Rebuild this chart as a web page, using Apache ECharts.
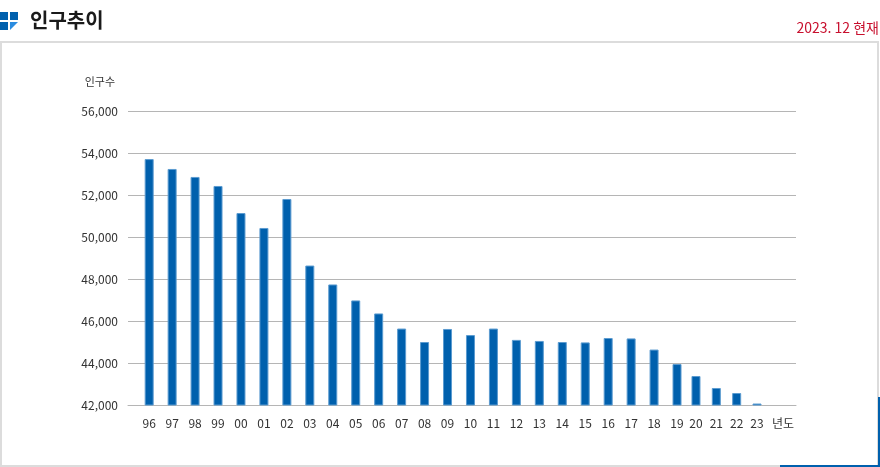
<!DOCTYPE html>
<html lang="ko">
<head>
<meta charset="utf-8">
<title>인구추이</title>
<style>
  html, body { margin: 0; padding: 0; background: #fff; }
  #chart { width: 880px; height: 467px; }
</style>
<script src="https://cdn.jsdelivr.net/npm/echarts@6/dist/echarts.min.js"></script>
</head>
<body>
<div id="chart"></div>
<script>
// 96~19 and 20~23 are spaced differently in the picture, so they sit on two axes
const yearsEarly = ['96', '97', '98', '99', '00', '01', '02', '03', '04', '05', '06', '07', '08', '09', '10', '11', '12', '13', '14', '15', '16', '17', '18', '19']
const yearsLate = ['20', '21', '22', '23']
const populationEarly = [53710, 53240, 52860, 52430, 51140, 50430, 51810, 48640, 47740, 46980, 46360, 45640, 45000, 45620, 45330, 45640, 45100, 45050, 45000, 44980, 45190, 45170, 44640, 43950]
const populationLate = [43380, 42810, 42570, 42070]

const FONT = '"Noto Sans CJK KR", "Noto Sans", sans-serif'
const BLUE = '#0060ad'
const GREY = '#dcdcdc'
const yMin = 42000
const yMax = 56000

const chart = echarts.init(document.getElementById('chart'))

function barAxis(gridIndex, data) {
  return {
    type: 'category',
    gridIndex,
    data,
    axisLine: { show: false },
    axisTick: { show: false },
    axisLabel: { color: '#333', fontFamily: FONT, fontSize: 12, margin: 12, interval: 0 }
  }
}

function hiddenY(gridIndex) {
  return { type: 'value', gridIndex, min: yMin, max: yMax, interval: 2000, show: false }
}

function barSeries(index, data) {
  return {
    type: 'bar',
    xAxisIndex: index,
    yAxisIndex: index,
    data,
    barWidth: 9,
    itemStyle: { color: BLUE, borderColor: '#5b9bd0', borderWidth: 1 }
  }
}

chart.setOption({
  animation: false,
  backgroundColor: '#fff',
  textStyle: { fontFamily: FONT },
  title: {
    text: '인구추이',
    left: 30,
    top: 10,
    padding: 0,
    textStyle: { fontFamily: FONT, fontSize: 20, fontWeight: 'bold', color: '#1a1a1a' }
  },
  grid: [
    { left: 128, right: 84, top: 111, bottom: 62 },
    { left: 137.7, width: 550.8, top: 111, bottom: 62 },
    { left: 685.8, width: 81.4, top: 111, bottom: 62 }
  ],
  xAxis: [
    {
      type: 'category',
      gridIndex: 0,
      data: [],
      name: '년도',
      nameLocation: 'end',
      nameGap: -24,
      nameTextStyle: { color: '#333', fontFamily: FONT, fontSize: 12, verticalAlign: 'top', padding: [12, 0, 0, 0] },
      axisLine: { lineStyle: { color: '#b5b5b5' } },
      axisTick: { show: false },
      axisLabel: { show: false }
    },
    barAxis(1, yearsEarly),
    barAxis(2, yearsLate)
  ],
  yAxis: [
    {
      type: 'value',
      gridIndex: 0,
      min: yMin,
      max: yMax,
      interval: 2000,
      name: '인구수',
      nameLocation: 'end',
      nameGap: 24,
      nameTextStyle: { color: '#333', fontFamily: FONT, fontSize: 11, align: 'right', padding: [0, 13, 0, 0] },
      axisLine: { show: false },
      axisTick: { show: false },
      axisLabel: { color: '#333', fontFamily: FONT, fontSize: 12, margin: 10 },
      splitLine: { lineStyle: { color: '#b5b5b5' } }
    },
    hiddenY(1),
    hiddenY(2)
  ],
  series: [barSeries(1, populationEarly), barSeries(2, populationLate)],
  graphic: [
    // frame
    { type: 'rect', shape: { x: 1, y: 42, width: 877, height: 424 }, style: { fill: 'none', stroke: GREY, lineWidth: 2 }, z: 1 },
    { type: 'rect', shape: { x: 878, y: 397, width: 2, height: 70 }, style: { fill: BLUE }, z: 2 },
    { type: 'rect', shape: { x: 780, y: 465, width: 100, height: 2 }, style: { fill: BLUE }, z: 2 },
    // title icon
    { type: 'rect', shape: { x: 0, y: 12, width: 8, height: 8 }, style: { fill: BLUE } },
    { type: 'rect', shape: { x: 10, y: 12, width: 8, height: 8 }, style: { fill: BLUE } },
    { type: 'rect', shape: { x: 0, y: 22, width: 8, height: 8 }, style: { fill: BLUE } },
    { type: 'polygon', shape: { points: [[10, 22], [18, 22], [10, 30]] }, style: { fill: '#2a8ce0' } },
    // reference date
    {
      type: 'text',
      right: 1,
      top: 21,
      style: { text: '2023. 12 현재', fill: '#c8102e', font: '14px ' + FONT, textAlign: 'right' }
    }
  ]
})
</script>
</body>
</html>
